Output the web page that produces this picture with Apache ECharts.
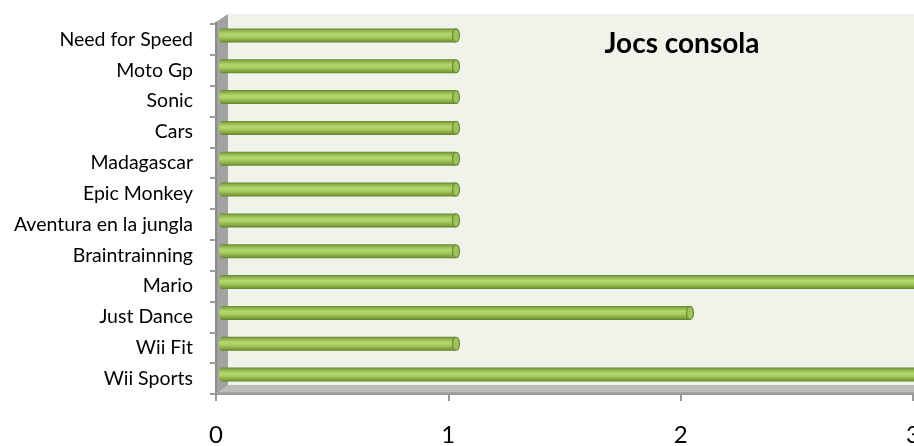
<!DOCTYPE html>
<html>
<head>
<meta charset="utf-8">
<script src="https://cdn.jsdelivr.net/npm/echarts@6/dist/echarts.min.js"></script>
<style>html,body{margin:0;padding:0;background:#fff}#c{width:914px;height:446px}</style>
</head>
<body>
<div id="c"></div>
<script>
const categories = ["Wii Sports","Wii Fit","Just Dance","Mario","Braintrainning","Aventura en la jungla","Epic Monkey","Madagascar","Cars","Sonic","Moto Gp","Need for Speed"];
const values = [3,1,2,3,1,1,1,1,1,1,1,1];
const xTicks = [0,1,2,3];
const title = "Jocs consola";

const FONT = "Lato, 'Open Sans', sans-serif";
const chart = echarts.init(document.getElementById('c'), null, {renderer:'canvas'});

function renderCyl(params, api){
  const i = api.value(0), v = api.value(1);
  const s = api.coord([0, i]);
  const e = api.coord([v, i]);
  const h = 14, cy = s[1];
  const grad = new echarts.graphic.LinearGradient(0,0,0,1,[
    {offset:0,color:'#628430'},
    {offset:0.15,color:'#8cb14a'},
    {offset:0.4,color:'#b5d86e'},
    {offset:0.6,color:'#a9cd60'},
    {offset:0.85,color:'#82a540'},
    {offset:1,color:'#5f8029'}
  ]);
  return {type:'group', children:[
    {type:'ellipse', shape:{cx:s[0], cy:cy, rx:3, ry:h/2}, style:{fill:grad}},
    {type:'rect', shape:{x:s[0], y:cy-h/2, width:e[0]-s[0], height:h}, style:{fill:grad}},
    {type:'ellipse', shape:{cx:e[0], cy:cy, rx:3.5, ry:h/2-0.5}, style:{fill:'#9fc35a', stroke:'#6b8c30', lineWidth:1.2}}
  ]};
}

chart.setOption({
  animation:false,
  textStyle:{fontFamily:FONT},
  title:{text:title, left:677, top:25, textAlign:'center',
    textStyle:{fontFamily:FONT, fontWeight:'bold', fontSize:28, color:'#000'}},
  graphic:[
    {type:'rect', shape:{x:228,y:14,width:700,height:371}, style:{fill:'#f0f3ea'}, z:-10},
    {type:'polygon', shape:{points:[[216,22],[228,14],[228,385],[216,395]]}, style:{fill:'#a2a2a0'}, z:-9},
    {type:'rect', shape:{x:215,y:22,width:2,height:373}, style:{fill:'#8a8a88'}, z:-9},
    {type:'polygon', shape:{points:[[216,395],[228,385],[914,385],[914,395]]}, style:{fill:'#bcbcb8'}, z:-9},
    {type:'rect', shape:{x:216,y:392,width:700,height:3}, style:{fill:'#a4a4a2'}, z:-9}
  ],
  grid:[
    {left:216, top:24, width:697, height:370, outerBoundsMode:'none', containLabel:false},
    {left:222, top:20, width:702, height:370, outerBoundsMode:'none', containLabel:false}
  ],
  xAxis:[
    {gridIndex:0, type:'value', min:xTicks[0], max:xTicks[xTicks.length-1], interval:1,
      axisLine:{show:true, lineStyle:{color:'#9a9a9a', width:2}},
      axisTick:{show:true, length:7, lineStyle:{color:'#9a9a9a', width:2}},
      splitLine:{show:false},
      axisLabel:{margin:29, fontSize:24, color:'#000', fontFamily:FONT}},
    {gridIndex:1, type:'value', min:0, max:3, show:false, splitLine:{show:false}}
  ],
  yAxis:[
    {gridIndex:0, type:'category', data:categories,
      axisLine:{show:false},
      axisTick:{show:true, length:6, lineStyle:{color:'#9a9a9a', width:2}},
      axisLabel:{margin:23, fontSize:19.5, color:'#000', fontFamily:FONT}},
    {gridIndex:1, type:'category', data:categories, show:false}
  ],
  series:[{
    type:'custom', xAxisIndex:1, yAxisIndex:1,
    renderItem:renderCyl,
    data:values.map((v,i)=>[i,v]),
    clip:false
  }]
});
</script>
</body>
</html>
